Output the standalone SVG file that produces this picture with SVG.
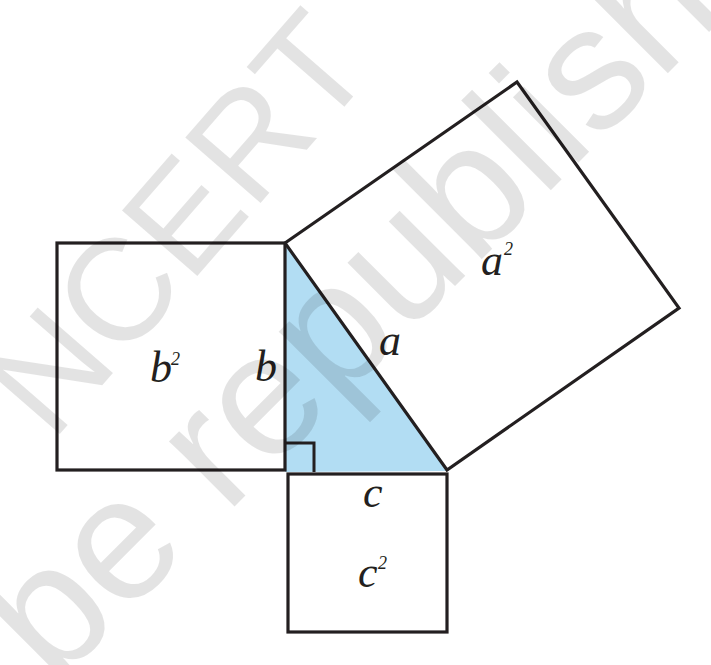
<svg xmlns="http://www.w3.org/2000/svg" width="711" height="665" viewBox="0 0 711 665">
  <style>
    .edge { fill: none; stroke: #231f20; stroke-width: 3; stroke-linejoin: miter; }
    .sq { fill: #ffffff; stroke: #231f20; stroke-width: 3.2; }
    .lbl { font-family: "Liberation Serif", "Times New Roman", serif; font-style: italic; font-size: 44px; fill: #231f20; }
    .sup { font-family: "Liberation Serif", "Times New Roman", serif; font-style: italic; font-size: 18px; fill: #231f20; }
    .wm { font-family: "Liberation Sans", Arial, sans-serif; fill: #000000; fill-opacity: 0.11; }
  </style>
  <rect x="0" y="0" width="711" height="665" fill="#ffffff"/>

  <g id="triangle">
    <polygon points="285,243 447,471 285,472" fill="#b2ddf3"/>
    <path class="edge" d="M285,443 H314 V472" stroke-width="2.6"/>
  </g>

  <g id="square-b">
    <rect class="sq" x="57" y="243" width="228" height="227" fill="none"/>
    <text class="lbl" x="150" y="382">b</text>
    <text class="sup" x="171" y="365">2</text>
    <text class="lbl" x="255" y="381">b</text>
  </g>

  <g id="square-a">
    <polygon class="sq" points="285,243 517,82 679,308 447,470" fill="none"/>
    <text class="lbl" x="481" y="275">a</text>
    <text class="sup" x="504" y="255">2</text>
    <text class="lbl" x="379" y="355">a</text>
  </g>

  <g id="square-c">
    <rect class="sq" x="288" y="474" width="159" height="158"/>
    <text class="lbl" x="363" y="507">c</text>
    <text class="lbl" x="358" y="587">c</text>
    <text class="sup" x="378" y="569">2</text>
  </g>

  <g id="watermark">
    <text class="wm" font-size="145" transform="translate(52,443) rotate(-49)">NCERT</text>
    <text class="wm" font-size="175" transform="translate(54,687) rotate(-45)">be republished</text>
  </g>
</svg>
